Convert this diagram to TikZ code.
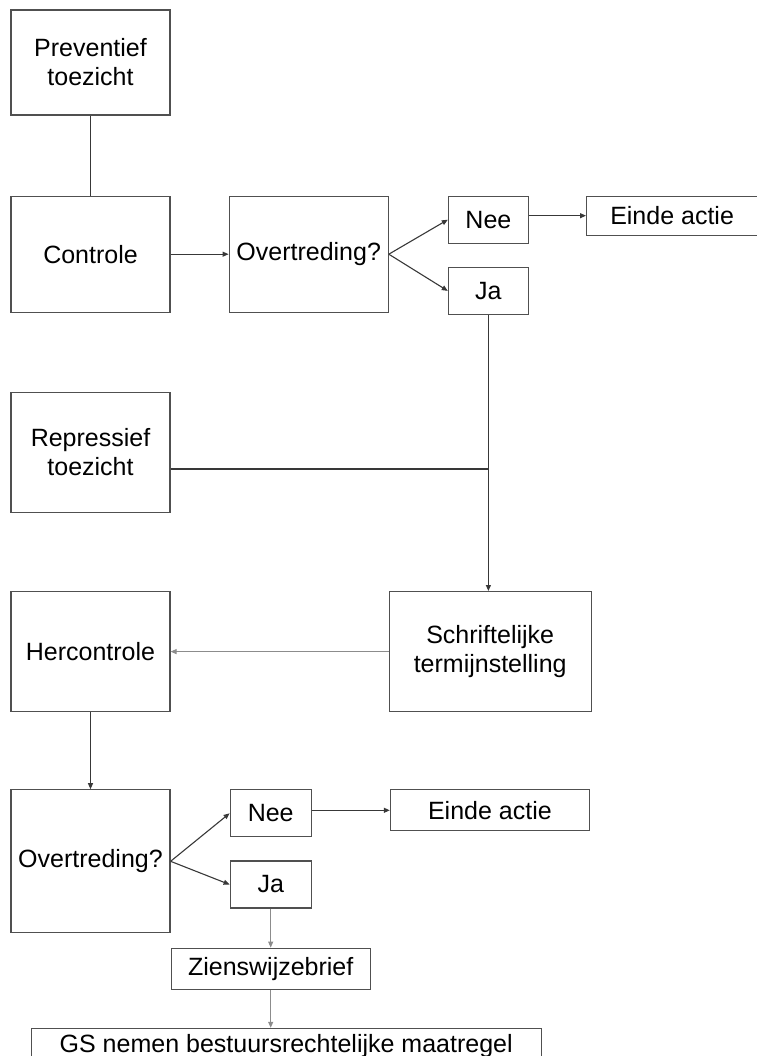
\documentclass[tikz,border=0pt]{standalone}
\usepackage{fontspec}
\setmainfont{Liberation Sans}
\usetikzlibrary{positioning,arrows.meta}
\definecolor{rand}{HTML}{505050}
\definecolor{lijn}{HTML}{383838}
\definecolor{licht}{HTML}{8C8C8C}
\tikzset{box/.style={draw=rand,line width=1.2pt,inner sep=0pt,align=center,
		minimum width=159pt,font=\fontsize{25}{29}\selectfont},
	 kort/.style={box,minimum width=80pt,minimum height=47pt},
	 pijl/.style={draw=lijn,line width=1.1pt,-{Triangle[length=6pt,width=5pt]}},
	 grijs/.style={pijl,draw=licht},
	 x=1pt,y=1pt
	 }

\begin{document}
\begin{tikzpicture}
        \useasboundingbox (0,0) rectangle (756,-1056);
        \node[box,minimum height=105pt] (prev) at (90.5,-62.5) {Preventief\\toezicht};
        \node[box,minimum height=116pt] (contr) [below=80pt of prev] {Controle};
        \node[box,minimum height=116pt] (over1) [right=58pt of contr] {Overtreding?};
        \node[kort] (nee1) [right=59pt of over1.north east,anchor=north west] {Nee};
        \node[kort] (ja1) [below=23pt of nee1] {Ja};
        \node[box,minimum width=171pt,minimum height=39pt] (einde1) [right=57pt of nee1.north east,anchor=north west] {Einde actie};
        \node[box,minimum height=120pt] (rep) [below=79pt of contr] {Repressief\\toezicht};
        \node[box,minimum height=120pt] (herc) [below=78pt of rep] {Hercontrole};
        \node[box,minimum width=202pt,minimum height=120pt] (schr) [right=218pt of herc] {Schriftelijke\\termijnstelling};
        \node[box,minimum height=143pt] (over2) [below=77pt of herc] {Overtreding?};
        \node[kort,minimum width=81pt] (nee2) [right=59pt of over2.north east,anchor=north west] {Nee};
        \node[kort,minimum width=81pt] (ja2) [below=23pt of nee2] {Ja};
        \node[box,minimum width=199pt,minimum height=41pt] (einde2) [right=78pt of nee2.north east,anchor=north west] {Einde actie};
        \node[box,minimum width=199pt,minimum height=41pt] (zien) [below=39pt of ja2] {Zienswijzebrief};
        \node[box,minimum width=510pt,minimum height=36pt] (gs) [below=38pt of zien,xshift=15.5pt] {GS nemen bestuursrechtelijke maatregel};
        \coordinate (samen) at (ja1.south |- 0,-469);
        % eerste ronde
        \draw[draw=lijn,line width=1.1pt] (prev) to (contr);
        \draw[pijl] (contr) to (over1);
        \draw[pijl] (over1.east) to (nee1.west);
        \draw[pijl] (over1.east) to (ja1.west);
        \draw[pijl] (einde1.west -| nee1.east) to (einde1.west);
        \draw[draw=lijn,line width=1.1pt] (rep.east |- samen) to (samen);
        \draw[pijl] (ja1.south) to (ja1.south |- schr.north);
        % hercontrole
        \draw[grijs] (schr) to (herc);
        \draw[pijl] (herc) to (over2);
        \draw[pijl] (over2.east) to (nee2.west);
        \draw[pijl] (over2.east) to (ja2.west);
        \draw[pijl] (einde2.west -| nee2.east) to (einde2.west);
        \draw[grijs] (ja2) to (zien);
        \draw[grijs] (zien.south) to (zien.south |- gs.north);
\end{tikzpicture}
\end{document}
